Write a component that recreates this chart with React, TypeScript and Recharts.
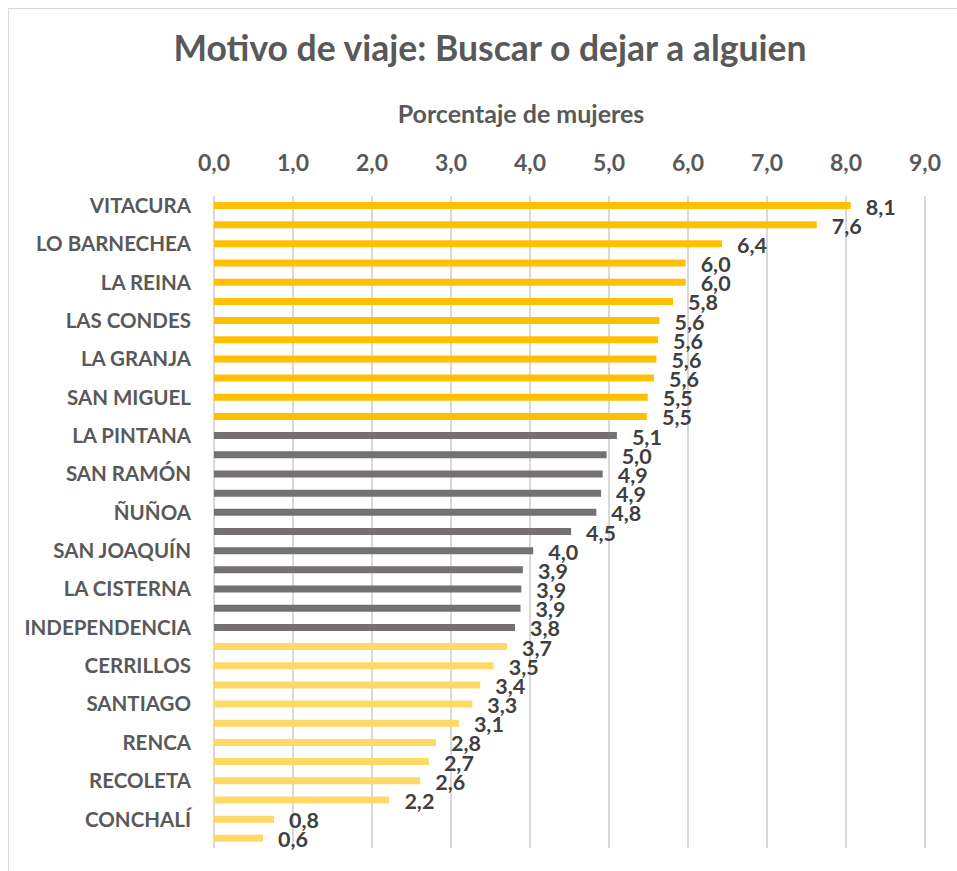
import { BarChart, Bar, XAxis, YAxis, CartesianGrid, Cell, LabelList } from "recharts";

const comunas = [
  "VITACURA", "PROVIDENCIA", "LO BARNECHEA", "MACUL", "LA REINA", "PEÑALOLÉN",
  "LAS CONDES", "LA FLORIDA", "LA GRANJA", "HUECHURABA", "SAN MIGUEL", "QUILICURA",
  "LA PINTANA", "EL BOSQUE", "SAN RAMÓN", "PUENTE ALTO", "ÑUÑOA", "LO ESPEJO",
  "SAN JOAQUÍN", "ESTACIÓN CENTRAL", "LA CISTERNA", "MAIPÚ", "INDEPENDENCIA", "PUDAHUEL",
  "CERRILLOS", "SAN BERNARDO", "SANTIAGO", "QUINTA NORMAL", "RENCA", "LO PRADO",
  "RECOLETA", "PEDRO AGUIRRE CERDA", "CONCHALÍ", "CERRO NAVIA",
];

const porcentajes = [
  8.06, 7.63, 6.43, 5.97, 5.97, 5.81, 5.64, 5.62, 5.6, 5.57, 5.49, 5.48,
  5.1, 4.97, 4.92, 4.9, 4.84, 4.52, 4.04, 3.91, 3.89, 3.88, 3.81,
  3.71, 3.54, 3.37, 3.27, 3.1, 2.81, 2.72, 2.61, 2.22, 0.76, 0.62,
];

// how many comunas fall in each colour group, top to bottom
const groupSizes = [12, 11, 11];
const groupColors = ["#FFC000", "#767171", "#FFD966"];

const xTicks = [0, 1, 2, 3, 4, 5, 6, 7, 8, 9];

const data = comunas.map((name, i) => ({ name, value: porcentajes[i] }));

function colorFor(index: number) {
  let acc = 0;
  for (let g = 0; g < groupSizes.length; g++) {
    acc += groupSizes[g];
    if (index < acc) return groupColors[g];
  }
  return groupColors[groupColors.length - 1];
}

const fmt = (v: number) => v.toFixed(1).replace(".", ",");
const FONT = "Lato, 'Open Sans', sans-serif";

function ValueLabel(props: any) {
  const { x, y, width, height, value } = props;
  return (
    <text
      x={x + width + 15}
      y={y + height / 2 + 9}
      fill="#404040"
      fontSize={21.5}
      fontWeight={700}
      fontFamily={FONT}
    >
      {fmt(Number(value))}
    </text>
  );
}

export default function App() {
  return (
    <div style={{ position: "absolute", left: 0, top: 0, width: 957, height: 871, overflow: "hidden", background: "#fff" }}>
      <div
        style={{
          position: "absolute",
          left: 8,
          top: 8,
          width: 960,
          height: 880,
          borderTop: "1px solid #d9d9d9",
          borderLeft: "1px solid #d9d9d9",
        }}
      />
      <div
        style={{
          position: "absolute",
          left: 0,
          width: 980,
          top: 26,
          textAlign: "center",
          fontFamily: FONT,
          fontWeight: 700,
          fontSize: 35.5,
          color: "#595959",
        }}
      >
        Motivo de viaje: Buscar o dejar a alguien
      </div>
      <div
        style={{
          position: "absolute",
          left: 321,
          width: 400,
          top: 98,
          textAlign: "center",
          fontFamily: FONT,
          fontWeight: 700,
          fontSize: 25,
          color: "#595959",
        }}
      >
        Porcentaje de mujeres
      </div>
      <div style={{ position: "absolute", left: 0, top: 0 }}>
        <BarChart
          width={957}
          height={871}
          data={data}
          layout="vertical"
          margin={{ top: 136, right: 32, bottom: 23, left: 0 }}
        >
          <CartesianGrid horizontal={false} stroke="#d9d9d9" strokeWidth={2} />
          <XAxis
            type="number"
            orientation="top"
            domain={[0, 9]}
            ticks={xTicks}
            interval={0}
            height={60}
            axisLine={false}
            tickLine={false}
            tickSize={0}
            tickMargin={25}
            tickFormatter={fmt}
            tick={{ fill: "#595959", fontSize: 23, fontWeight: 700, fontFamily: FONT }}
          />
          <YAxis
            type="category"
            dataKey="name"
            width={214}
            interval={1}
            axisLine={false}
            tickLine={false}
            tickSize={0}
            tickMargin={23}
            tick={{ fill: "#595959", fontSize: 20.5, fontWeight: 700, fontFamily: FONT }}
          />
          <Bar dataKey="value" barSize={7} isAnimationActive={false}>
            {data.map((_, i) => (
              <Cell key={`c-${i}`} fill={colorFor(i)} />
            ))}
            <LabelList dataKey="value" content={<ValueLabel />} />
          </Bar>
        </BarChart>
      </div>
    </div>
  );
}
